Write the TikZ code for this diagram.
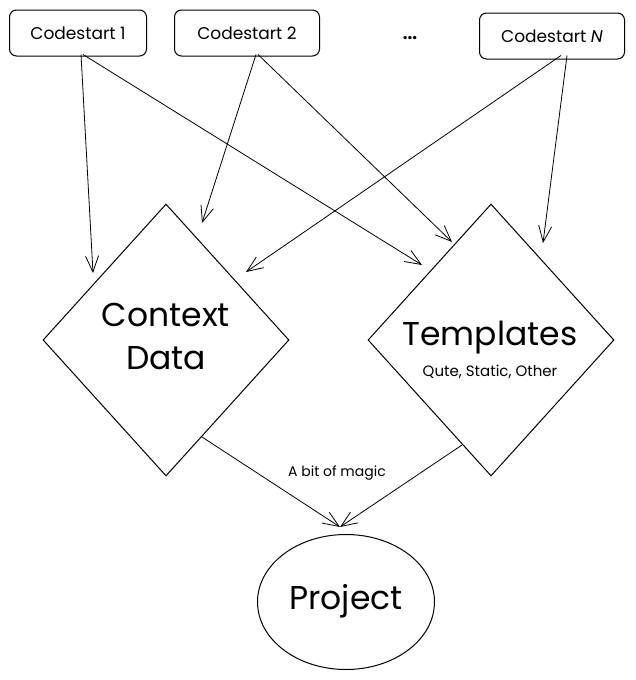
\documentclass[tikz,border=0pt]{standalone}
\usepackage{fontspec}
\setmainfont{Poppins}
\usetikzlibrary{shapes.geometric,arrows.meta,calc}
\tikzset{
  codebox/.style={draw, rounded corners=7pt, line width=1pt, minimum width=137pt, minimum height=46pt, inner sep=0pt, font=\fontsize{17}{20}\selectfont},
  dia/.style={draw, diamond, line width=1pt, minimum width=246pt, minimum height=272pt, inner sep=0pt, aspect=0.9},
  flow/.style={draw, line width=0.8pt, -{Straight Barb[length=16pt,width=13pt,line width=0.8pt]}},
  big/.style={font=\fontsize{33}{40}\selectfont},
}
\begin{document}
\begin{tikzpicture}[x=1pt,y=-1pt]
\useasboundingbox[fill=white] (0,0) rectangle (635,680);
\node[codebox] (c1) at (78,33) {Codestart 1};
\node[codebox, minimum width=145pt] (c2) at (247,33) {Codestart 2};
\node[font=\bfseries\fontsize{17}{20}\selectfont] (dots) at (410,38) {...};
\node[codebox, minimum width=145pt] (cn) at (552,36) {Codestart \textit{N}};

\node[dia] (ctx) at (166,340) {};
\node[big] (ctxt1) at (166,315) {Context};
\node[big] (ctxt2) at (166,358) {Data};
\node[dia] (tpl) at (491,340) {};
\node[big] (tplt) at (490,338) {Templates};
\node[font=\fontsize{15}{18}\selectfont] (tpls) at (490,372) {Qute, Static, Other};

\node[draw, ellipse, line width=1pt, minimum width=177pt, minimum height=135pt, inner sep=0pt] (proj) at (346,602) {};
\node[big] (projt) at (346,601) {Project};

\coordinate (a1) at (93,273);
\coordinate (a2) at (422,265);
\coordinate (a3) at (202,223);
\coordinate (a4) at (452,242);
\coordinate (a5) at (246,272);
\coordinate (a6) at (543,243);
\coordinate (pt) at (340,527);
\coordinate (s1) at (202,437);
\coordinate (s2) at (462,445);

\draw[flow] ([xshift=3pt,yshift=2pt]c1.south) -- (a1);
\draw[flow] ([xshift=5pt,yshift=2pt]c1.south) -- (a2);
\draw[flow] ([xshift=9pt,yshift=2pt]c2.south) -- (a3);
\draw[flow] ([xshift=11pt,yshift=2pt]c2.south) -- (a4);
\draw[flow] ([xshift=9pt,yshift=4pt]cn.south) -- (a5);
\draw[flow] ([xshift=15pt,yshift=4pt]cn.south) -- (a6);
\draw[flow] (s1) -- (pt);
\draw[flow] (s2) -- (pt);
\node[font=\fontsize{14}{16}\selectfont] (magic) at (337,473) {A bit of magic};
\end{tikzpicture}
\end{document}
